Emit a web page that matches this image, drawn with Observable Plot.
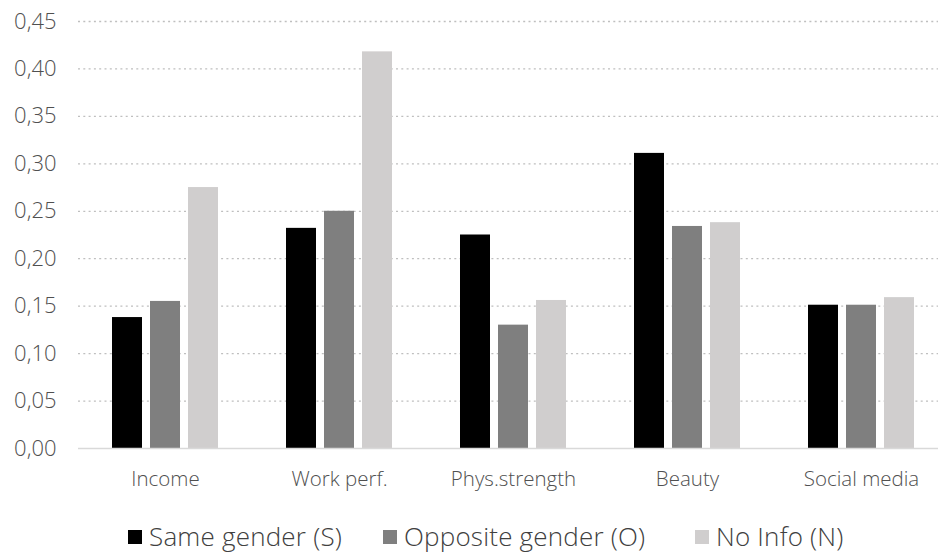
<!DOCTYPE html>
<html>
<head>
<meta charset="utf-8">
<script src="https://cdn.jsdelivr.net/npm/d3@7"></script>
<script src="https://cdn.jsdelivr.net/npm/@observablehq/plot@0.6"></script>
<style>
  html, body { margin: 0; padding: 0; background: #fff; }
  #wrap { position: relative; width: 938px; height: 555px; font-family: "Open Sans", sans-serif; }
  #legend { position: absolute; left: 0; top: 500px; width: 938px; height: 55px; }
  .item { position: absolute; top: 18px; display: flex; align-items: center; font-size: 26px; line-height: 36px; color: #404040; font-weight: 300; white-space: nowrap; letter-spacing: 0.2px; }
  .sw { width: 14px; height: 14px; margin-right: 7px; margin-top: 2px; }
</style>
</head>
<body>
<div id="wrap"><div id="chart"></div><div id="legend"></div></div>
<script>
const categories = ["Income", "Work perf.", "Phys.strength", "Beauty", "Social media"];
const seriesNames = ["Same gender (S)", "Opposite gender (O)", "No Info (N)"];
const sameGender = [0.138, 0.232, 0.225, 0.311, 0.151];
const oppositeGender = [0.155, 0.250, 0.130, 0.234, 0.151];
const noInfo = [0.275, 0.418, 0.156, 0.238, 0.159];
const yTicks = [0, 0.05, 0.10, 0.15, 0.20, 0.25, 0.30, 0.35, 0.40, 0.45];

const colors = ["#000000", "#7f7f7f", "#d0cece"];
const seriesValues = [sameGender, oppositeGender, noInfo];
const table = [];
seriesNames.forEach((s, i) => categories.forEach((c, j) => table.push({category: c, series: s, value: seriesValues[i][j]})));

const fmt = v => v.toFixed(2).replace(".", ",");
const offsets = [-38, 0, 38];

const chart = Plot.plot({
  width: 938,
  height: 500,
  marginTop: 21,
  marginBottom: 52,
  marginLeft: 78,
  marginRight: 0,
  style: { fontFamily: "Open Sans, sans-serif", background: "#fff" },
  x: { domain: categories, range: [77.5, 948], padding: 0, label: null },
  y: { domain: [0, 0.45], label: null },
  color: { domain: seriesNames, range: colors },
  marks: [
    Plot.ruleY(yTicks.filter(t => t > 0), { stroke: "#bfbfbf", strokeWidth: 1.3, strokeDasharray: "2,3.3" }),
    ...seriesNames.map((s, i) => Plot.barY(table.filter(d => d.series === s), {
      x: "category", y: "value", fill: "series", dx: offsets[i], insetLeft: 72, insetRight: 72
    })),
    Plot.ruleY([0], { stroke: "#d9d9d9", strokeWidth: 1.5 }),
    Plot.axisY({ ticks: yTicks, tickFormat: fmt, tickSize: 0, tickPadding: 22, fontSize: 22, fill: "#505050", fontWeight: 300 }),
    Plot.axisX({ tickSize: 0, tickPadding: 23, fontSize: 20.5, fill: "#505050", fontWeight: 300 })
  ]
});
document.getElementById("chart").appendChild(chart);

const legend = document.getElementById("legend");
const lefts = [128, 383, 695];
seriesNames.forEach((s, i) => {
  const it = document.createElement("div");
  it.className = "item";
  it.style.left = lefts[i] + "px";
  const sw = document.createElement("span");
  sw.className = "sw";
  sw.style.background = colors[i];
  const t = document.createElement("span");
  t.textContent = s;
  it.appendChild(sw); it.appendChild(t);
  legend.appendChild(it);
});
</script>
</body>
</html>
